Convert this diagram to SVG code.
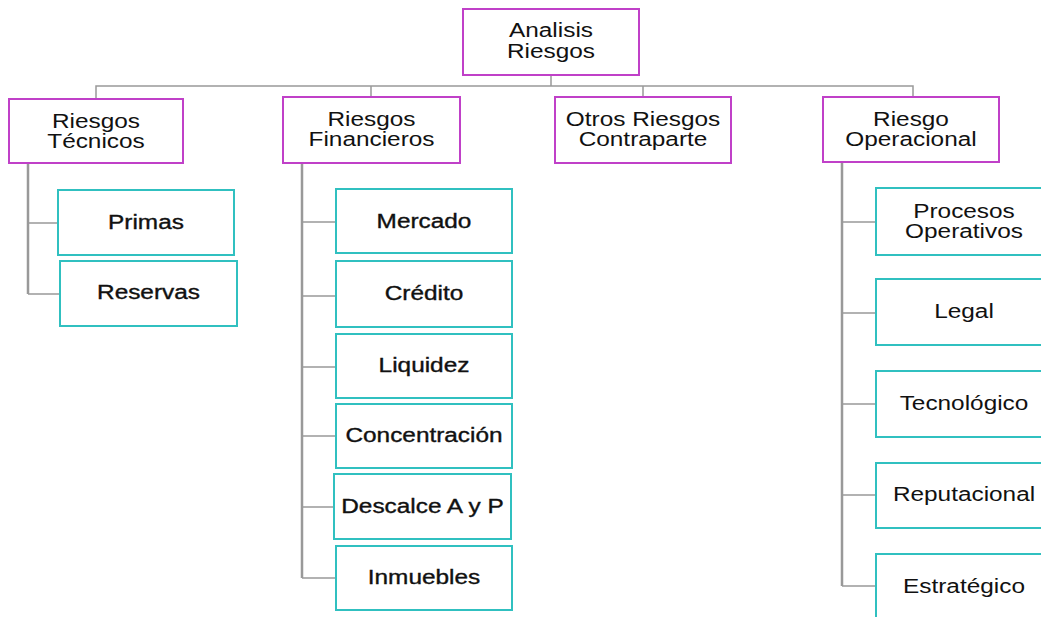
<svg xmlns="http://www.w3.org/2000/svg" width="1041" height="617" viewBox="0 0 1041 617">
<style>
.p{fill:#fff;stroke:#c040c8;stroke-width:2}
.c{fill:#fff;stroke:#30c0c0;stroke-width:2}
.t{font-family:"Liberation Sans",Arial,sans-serif;font-size:19.5px;fill:#111;text-anchor:middle}
.b{stroke:#111;stroke-width:0.35}
.v{stroke:#999;stroke-width:2.5;fill:none}
.h{stroke:#999;stroke-width:1.5;fill:none}
</style>
<rect width="1041" height="617" fill="#fff"/>
<g id="connectors">
<path class="h" d="M551 75V86M96 99V86H913V97M371 86V97M643 86V97"/>
<path class="v" d="M28 163V294M302 163V578M842 162V586"/>
<path class="h" d="M28 223H58M28 294H60M302 222H336M302 296H336M302 367H336M302 436H336M302 507H334M302 578H336M842 222H876M842 313H876M842 404H876M842 495H876M842 586H876"/>
</g>
<g id="root"><rect class="p" x="463" y="9" width="176" height="66"/>
<text class="t" transform="translate(551 37) scale(1.25 1)">Analisis</text>
<text class="t" transform="translate(551 58) scale(1.25 1)">Riesgos</text></g>
<g id="tecnicos"><rect class="p" x="9" y="99" width="174" height="64"/>
<text class="t" transform="translate(96 128) scale(1.25 1)">Riesgos</text>
<text class="t" transform="translate(96 148) scale(1.25 1)">Técnicos</text></g>
<g id="financieros"><rect class="p" x="283" y="97" width="177" height="66"/>
<text class="t" transform="translate(371.5 126) scale(1.25 1)">Riesgos</text>
<text class="t" transform="translate(371.5 146) scale(1.25 1)">Financieros</text></g>
<g id="otros"><rect class="p" x="555" y="97" width="176" height="66"/>
<text class="t" transform="translate(643 126) scale(1.25 1)">Otros Riesgos</text>
<text class="t" transform="translate(643 146) scale(1.25 1)">Contraparte</text></g>
<g id="operacional"><rect class="p" x="823" y="97" width="176" height="65"/>
<text class="t" transform="translate(911 126) scale(1.25 1)">Riesgo</text>
<text class="t" transform="translate(911 146) scale(1.25 1)">Operacional</text></g>
<g id="primas"><rect class="c" x="58" y="190" width="176" height="65"/>
<text class="t b" transform="translate(146 229) scale(1.25 1)">Primas</text></g>
<g id="reservas"><rect class="c" x="60" y="261" width="177" height="65"/>
<text class="t b" transform="translate(148.5 299) scale(1.25 1)">Reservas</text></g>
<g id="mercado"><rect class="c" x="336" y="189" width="176" height="64"/>
<text class="t b" transform="translate(424 228) scale(1.25 1)">Mercado</text></g>
<g id="credito"><rect class="c" x="336" y="261" width="176" height="66"/>
<text class="t b" transform="translate(424 300) scale(1.25 1)">Crédito</text></g>
<g id="liquidez"><rect class="c" x="336" y="334" width="176" height="64"/>
<text class="t b" transform="translate(424 372) scale(1.25 1)">Liquidez</text></g>
<g id="concentracion"><rect class="c" x="336" y="404" width="176" height="64"/>
<text class="t b" transform="translate(424 442) scale(1.25 1)">Concentración</text></g>
<g id="descalce"><rect class="c" x="334" y="474" width="177" height="65"/>
<text class="t b" transform="translate(422.5 513) scale(1.25 1)">Descalce A y P</text></g>
<g id="inmuebles"><rect class="c" x="336" y="546" width="176" height="64"/>
<text class="t b" transform="translate(424 584) scale(1.25 1)">Inmuebles</text></g>
<g id="procesos"><rect class="c" x="876" y="188" width="176" height="67"/>
<text class="t" transform="translate(964 218) scale(1.25 1)">Procesos</text>
<text class="t" transform="translate(964 238) scale(1.25 1)">Operativos</text></g>
<g id="legal"><rect class="c" x="876" y="279" width="176" height="66"/>
<text class="t" transform="translate(964 318) scale(1.25 1)">Legal</text></g>
<g id="tecnologico"><rect class="c" x="876" y="371" width="176" height="66"/>
<text class="t" transform="translate(964 410) scale(1.25 1)">Tecnológico</text></g>
<g id="reputacional"><rect class="c" x="876" y="463" width="176" height="65"/>
<text class="t" transform="translate(964 501) scale(1.25 1)">Reputacional</text></g>
<g id="estrategico"><rect class="c" x="876" y="554" width="176" height="70"/>
<text class="t" transform="translate(964 593) scale(1.25 1)">Estratégico</text></g>
</svg>
